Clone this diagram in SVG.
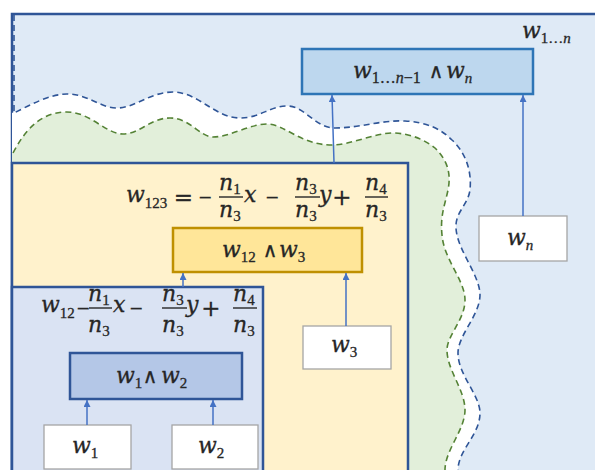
<svg xmlns="http://www.w3.org/2000/svg" width="595" height="470" viewBox="0 0 595 470">
<style>
text{font-family:"DejaVu Serif","Liberation Serif",serif;fill:#262626;stroke:#262626;stroke-width:0.3}
.i{font-style:italic;font-size:22px}
.s{font-family:"Liberation Serif","DejaVu Serif",serif;font-style:normal;font-size:15px}
.si{font-family:"Liberation Serif","DejaVu Serif",serif;font-style:italic;font-size:15px}
.eq{font-size:23px;text-anchor:middle}
.mi{font-size:17px;text-anchor:middle}
.w{font-size:20px;text-anchor:middle}
.bar{stroke:#262626;stroke-width:1.4}
.leaf{fill:#ffffff;stroke:#a5a5a5;stroke-width:1.3}
.arr{stroke:#4472c4;stroke-width:1.5;fill:none;marker-end:url(#ah)}
</style>
<defs>
<marker id="ah" markerUnits="userSpaceOnUse" markerWidth="8" markerHeight="8" refX="7" refY="3.5" orient="auto">
<path d="M0,0 L7,3.5 L0,7 z" fill="#4472c4"/>
</marker>
</defs>
<g id="region-n">
<rect x="12" y="14" width="600" height="470" fill="#dfeaf6" stroke="#2f5597" stroke-width="2.5"/>
<path d="M12,113 C30,105 50,94 67,94 C88,94 100,108 117,108 C135,108 150,92 173,92 C198,92 215,118 240,118 C260,118 270,106 287,106 C305,106 315,128 335,128 C360,128 380,120 405,121 C425,122 440,128 452,140 C465,152 472,170 470,190 C468,205 455,212 456,228 C457,250 480,275 480,295 C480,315 458,335 458,353 C458,375 480,395 480,413 C480,435 458,450 458,470 L12,470 Z" fill="#ffffff"/>
<path d="M14,15 L14,113 C30,105 50,94 67,94 C88,94 100,108 117,108 C135,108 150,92 173,92 C198,92 215,118 240,118 C260,118 270,106 287,106 C305,106 315,128 335,128 C360,128 380,120 405,121 C425,122 440,128 452,140 C465,152 472,170 470,190 C468,205 455,212 456,228 C457,250 480,275 480,295 C480,315 458,335 458,353 C458,375 480,395 480,413 C480,435 458,450 458,470" fill="none" stroke="#2f5597" stroke-width="1.6" stroke-dasharray="6,4"/>
<path d="M13,153 C25,130 40,113 65,112 C90,111 105,134 123,134 C140,134 150,118 170,118 C190,118 200,137 213,137 C230,137 250,124 267,124 C285,124 300,145 332,145 C350,145 375,133 392,133 C410,133 425,140 435,148 C445,158 452,170 448,190 C445,205 440,215 442,235 C444,260 465,280 465,300 C465,320 447,335 447,350 C447,370 465,390 465,410 C465,430 445,450 445,470 L12,470 L12,153 Z" fill="#e2efda" stroke="none"/>
<path d="M13,153 C25,130 40,113 65,112 C90,111 105,134 123,134 C140,134 150,118 170,118 C190,118 200,137 213,137 C230,137 250,124 267,124 C285,124 300,145 332,145 C350,145 375,133 392,133 C410,133 425,140 435,148 C445,158 452,170 448,190 C445,205 440,215 442,235 C444,260 465,280 465,300 C465,320 447,335 447,350 C447,370 465,390 465,410 C465,430 445,450 445,470" fill="none" stroke="#548235" stroke-width="1.6" stroke-dasharray="6,4"/>
<text x="522" y="38"><tspan class="i">w</tspan><tspan class="s" dy="5">1…<tspan class="si">n</tspan></tspan></text>
</g>
<g id="region-123">
<rect x="12" y="163" width="396" height="330" fill="#fff2cc" stroke="#2f5597" stroke-width="2.5"/>
<text x="126" y="202"><tspan class="i">w</tspan><tspan class="s" dy="6">123</tspan></text>
<text class="eq" x="183.5" y="205">=</text>
<text class="mi" x="205" y="202.5">−</text>
<line class="bar" x1="219" y1="197" x2="243" y2="197"/>
<text x="219" y="190"><tspan class="i">n</tspan><tspan class="s" dy="4">1</tspan></text>
<text x="219" y="217"><tspan class="i">n</tspan><tspan class="s" dy="4">3</tspan></text>
<text class="i" x="244" y="202">x</text>
<text class="mi" x="272" y="202.5">−</text>
<line class="bar" x1="295" y1="197" x2="320" y2="197"/>
<text x="295" y="190"><tspan class="i">n</tspan><tspan class="s" dy="4">3</tspan></text>
<text x="295" y="217"><tspan class="i">n</tspan><tspan class="s" dy="4">3</tspan></text>
<text class="i" x="319" y="202">y</text>
<text class="eq" x="342" y="205">+</text>
<line class="bar" x1="365" y1="197" x2="388" y2="197"/>
<text x="365" y="190"><tspan class="i">n</tspan><tspan class="s" dy="4">4</tspan></text>
<text x="365" y="217"><tspan class="i">n</tspan><tspan class="s" dy="4">3</tspan></text>
</g>
<g id="region-12">
<rect x="12" y="287" width="251" height="200" fill="#dae3f3" stroke="#2f5597" stroke-width="2.5"/>
<text x="41" y="312"><tspan class="i">w</tspan><tspan class="s" dy="6">12</tspan></text>
<text class="mi" x="83" y="313.5">−</text>
<line class="bar" x1="89" y1="308" x2="112" y2="308"/>
<text x="88" y="301"><tspan class="i">n</tspan><tspan class="s" dy="4">1</tspan></text>
<text x="88" y="332"><tspan class="i">n</tspan><tspan class="s" dy="4">3</tspan></text>
<text class="i" x="113" y="312">x</text>
<text class="mi" x="136" y="313.5">−</text>
<line class="bar" x1="162" y1="308" x2="187" y2="308"/>
<text x="162" y="301"><tspan class="i">n</tspan><tspan class="s" dy="4">3</tspan></text>
<text x="162" y="332"><tspan class="i">n</tspan><tspan class="s" dy="4">3</tspan></text>
<text class="i" x="186" y="312">y</text>
<text class="eq" x="211" y="316">+</text>
<line class="bar" x1="233" y1="308" x2="257" y2="308"/>
<text x="233" y="301"><tspan class="i">n</tspan><tspan class="s" dy="4">4</tspan></text>
<text x="233" y="332"><tspan class="i">n</tspan><tspan class="s" dy="4">3</tspan></text>
</g>
<g id="node-top">
<rect x="302" y="49" width="231" height="45" fill="#bdd7ee" stroke="#2e75b6" stroke-width="2.5"/>
<text x="353" y="78"><tspan class="i">w</tspan><tspan class="s" dy="5" style="font-size:16px">1…<tspan class="si" style="font-size:16px">n</tspan>−1</tspan></text>
<text class="w" x="436" y="78">∧</text>
<text x="446" y="78"><tspan class="i">w</tspan><tspan class="si" dy="5">n</tspan></text>
</g>
<g id="node-w12w3">
<rect x="173" y="228" width="189" height="44" fill="#ffe699" stroke="#bf9000" stroke-width="2.5"/>
<text x="222" y="257"><tspan class="i">w</tspan><tspan class="s" dy="5">12</tspan></text>
<text class="w" x="270" y="257">∧</text>
<text x="279" y="257"><tspan class="i">w</tspan><tspan class="s" dy="5">3</tspan></text>
</g>
<g id="node-w1w2">
<rect x="70" y="353" width="172" height="46" fill="#b4c7e7" stroke="#2f5597" stroke-width="2.5"/>
<text x="116" y="383"><tspan class="i">w</tspan><tspan class="s" dy="5">1</tspan></text>
<text class="w" x="150" y="383">∧</text>
<text x="161" y="383"><tspan class="i">w</tspan><tspan class="s" dy="5">2</tspan></text>
</g>
<g id="node-w1">
<rect class="leaf" x="44" y="425" width="87" height="44"/>
<text x="72" y="453"><tspan class="i">w</tspan><tspan class="s" dy="5">1</tspan></text>
</g>
<g id="node-w2">
<rect class="leaf" x="172" y="425" width="86" height="44"/>
<text x="198" y="453"><tspan class="i">w</tspan><tspan class="s" dy="5">2</tspan></text>
</g>
<g id="node-w3">
<rect class="leaf" x="303" y="326" width="88" height="43"/>
<text x="331" y="352"><tspan class="i">w</tspan><tspan class="s" dy="5">3</tspan></text>
</g>
<g id="node-wn">
<rect class="leaf" x="479" y="216" width="88" height="45"/>
<text x="507" y="245"><tspan class="i">w</tspan><tspan class="si" dy="5">n</tspan></text>
</g>
<g id="connectors">
<line class="arr" x1="87" y1="425" x2="87" y2="400"/>
<line class="arr" x1="213" y1="425" x2="213" y2="400"/>
<line class="arr" x1="183" y1="287" x2="183" y2="273"/>
<line class="arr" x1="346" y1="326" x2="346" y2="273"/>
<line class="arr" x1="334" y1="163" x2="332" y2="95"/>
<line class="arr" x1="523" y1="216" x2="523" y2="95"/>
</g>
</svg>
